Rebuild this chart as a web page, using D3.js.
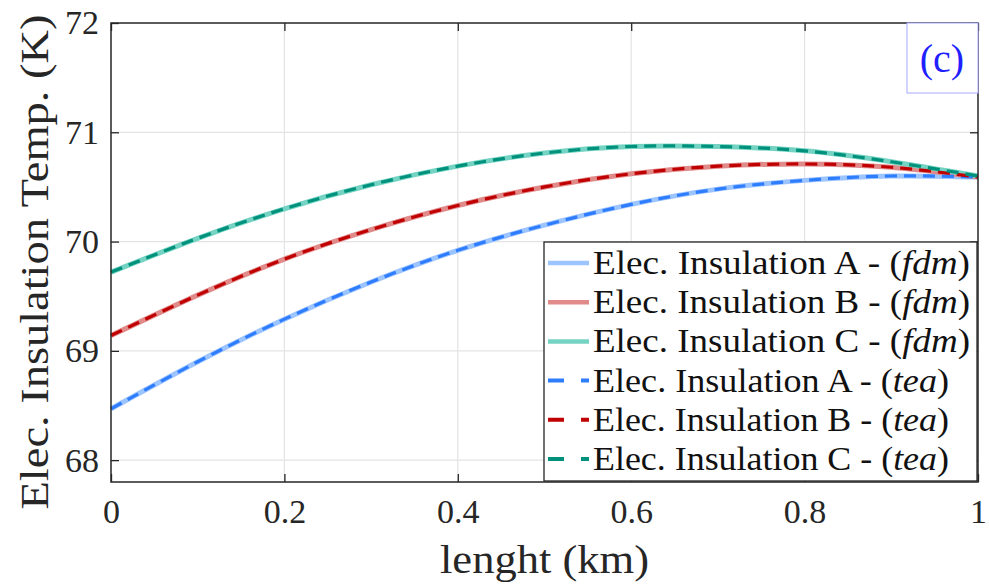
<!DOCTYPE html>
<html>
<head>
<meta charset="utf-8">
<script src="https://cdn.jsdelivr.net/npm/d3@7"></script>
<style>
  html, body { margin: 0; padding: 0; background: #fff; }
  svg { display: block; }
</style>
</head>
<body>
<svg id="chart" width="989" height="584"></svg>
<script>
// Position along the line (km)
const lengthKm = [0, 0.1, 0.2, 0.3, 0.4, 0.5, 0.6, 0.7, 0.8, 0.9, 1.0];

// Insulation temperatures (K), finite-difference solution
const fdmA = [68.47, 68.90, 69.29, 69.63, 69.92, 70.15, 70.34, 70.48, 70.56, 70.60, 70.59];
const fdmB = [69.14, 69.51, 69.84, 70.11, 70.33, 70.50, 70.62, 70.69, 70.71, 70.68, 70.59];
const fdmC = [69.72, 70.03, 70.30, 70.52, 70.69, 70.81, 70.87, 70.87, 70.83, 70.73, 70.60];

// Insulation temperatures (K), analytical (tea) solution
const teaA = [68.47, 68.90, 69.29, 69.63, 69.92, 70.15, 70.34, 70.48, 70.56, 70.60, 70.59];
const teaB = [69.14, 69.51, 69.84, 70.11, 70.33, 70.50, 70.62, 70.69, 70.71, 70.68, 70.59];
const teaC = [69.72, 70.03, 70.30, 70.52, 70.69, 70.81, 70.87, 70.87, 70.83, 70.73, 70.60];

const xTicks = [0, 0.2, 0.4, 0.6, 0.8, 1];
const xTickLabels = ["0", "0.2", "0.4", "0.6", "0.8", "1"];
const yTicks = [68, 69, 70, 71, 72];
const yTickLabels = ["68", "69", "70", "71", "72"];

const legendNames = ["Elec. Insulation A", "Elec. Insulation B", "Elec. Insulation C",
                     "Elec. Insulation A", "Elec. Insulation B", "Elec. Insulation C"];
const legendMethods = ["fdm", "fdm", "fdm", "tea", "tea", "tea"];

const series = [
  { values: fdmA, color: "#9cc4ff", width: 5, dash: null },
  { values: fdmB, color: "#e08a8a", width: 5, dash: null },
  { values: fdmC, color: "#74d3c2", width: 5, dash: null },
  { values: teaA, color: "#2f7dff", width: 3.2, dash: "12,7" },
  { values: teaB, color: "#c00000", width: 3.2, dash: "12,7" },
  { values: teaC, color: "#00917c", width: 3.2, dash: "12,7" }
];

const serif = "'Liberation Serif', 'DejaVu Serif', 'Noto Serif', 'Times New Roman', Times, Tinos, 'Nimbus Roman', FreeSerif, Georgia, serif";
const svg = d3.select("#chart");
const plotLeft = 111, plotRight = 978, plotTop = 23, plotBottom = 482;

const x = d3.scaleLinear().domain([0, 1]).range([plotLeft, plotRight]);
const y = d3.scaleLinear().domain([67.8, 72]).range([plotBottom, plotTop]);

// Grid
const grid = svg.append("g");
grid.selectAll("line.gx").data(xTicks.slice(1, -1)).enter().append("line")
  .attr("x1", d => x(d)).attr("x2", d => x(d)).attr("y1", plotTop).attr("y2", plotBottom)
  .attr("stroke", "#e3e3e3").attr("stroke-width", 1.2);
grid.selectAll("line.gy").data(yTicks.filter(v => v < 72)).enter().append("line")
  .attr("x1", plotLeft).attr("x2", plotRight).attr("y1", d => y(d)).attr("y2", d => y(d))
  .attr("stroke", "#e3e3e3").attr("stroke-width", 1.2);

// Curves
const line = d3.line()
  .x((d, i) => x(lengthKm[i]))
  .y(d => y(d))
  .curve(d3.curveNatural);

const plot = svg.append("g");
series.forEach(s => {
  plot.append("path")
    .attr("d", line(s.values))
    .attr("fill", "none")
    .attr("stroke", s.color)
    .attr("stroke-width", s.width)
    .attr("stroke-dasharray", s.dash);
});

// Axes (ticks pointing inward on all four sides)
const tickLen = 8;
const axisColor = "#262626";
const axB = d3.axisBottom(x).tickValues(xTicks).tickFormat((d, i) => xTickLabels[i])
  .tickSizeInner(-tickLen).tickSizeOuter(0).tickPadding(17);
const axT = d3.axisTop(x).tickValues(xTicks).tickFormat("").tickSizeInner(-tickLen).tickSizeOuter(0);
const axL = d3.axisLeft(y).tickValues(yTicks).tickFormat((d, i) => yTickLabels[i])
  .tickSizeInner(-tickLen).tickSizeOuter(0).tickPadding(12);
const axR = d3.axisRight(y).tickValues(yTicks).tickFormat("").tickSizeInner(-tickLen).tickSizeOuter(0);

function styleAxis(g) {
  g.attr("font-family", serif).attr("font-size", 34);
  g.select(".domain").remove();
  g.selectAll(".tick line").attr("stroke", axisColor).attr("stroke-width", 1.3);
  g.selectAll(".tick text").attr("fill", axisColor);
}
svg.append("g").attr("transform", `translate(0,${plotBottom})`).call(axB).call(styleAxis);
svg.append("g").attr("transform", `translate(0,${plotTop})`).call(axT).call(styleAxis);
svg.append("g").attr("transform", `translate(${plotLeft},0)`).call(axL).call(styleAxis);
svg.append("g").attr("transform", `translate(${plotRight},0)`).call(axR).call(styleAxis);

// Plot frame
svg.append("rect")
  .attr("x", plotLeft).attr("y", plotTop).attr("width", plotRight - plotLeft).attr("height", plotBottom - plotTop)
  .attr("fill", "none").attr("stroke", axisColor).attr("stroke-width", 1.5);

// Axis titles
svg.append("text")
  .attr("x", (plotLeft + plotRight) / 2).attr("y", 573)
  .attr("text-anchor", "middle")
  .attr("font-family", serif).attr("font-size", 40).attr("fill", axisColor)
  .attr("textLength", 209).attr("lengthAdjust", "spacingAndGlyphs")
  .text("lenght (km)");

svg.append("text")
  .attr("transform", "translate(48,262) rotate(-90)")
  .attr("text-anchor", "middle")
  .attr("font-family", serif).attr("font-size", 40).attr("fill", axisColor)
  .attr("textLength", 495).attr("lengthAdjust", "spacingAndGlyphs")
  .text("Elec. Insulation Temp. (K)");

// Legend
const lg = svg.append("g");
const lgX = 544, lgY = 242, lgW = 433, lgH = 239;
lg.append("rect")
  .attr("x", lgX).attr("y", lgY).attr("width", lgW).attr("height", lgH)
  .attr("fill", "#fff").attr("stroke", axisColor).attr("stroke-width", 1.3);

const rowY = d3.scaleLinear().domain([0, 5]).range([263, 459]);
series.forEach((s, i) => {
  const ry = rowY(i);
  lg.append("line")
    .attr("x1", 548).attr("x2", 589).attr("y1", ry).attr("y2", ry)
    .attr("stroke", s.color)
    .attr("stroke-width", s.dash ? 4 : 4.5)
    .attr("stroke-dasharray", s.dash ? "16,17" : null);
  const t = lg.append("text")
    .attr("x", 593).attr("y", ry + 11)
    .attr("font-family", serif).attr("font-size", 33).attr("fill", "#111")
    .attr("textLength", legendMethods[i] === "fdm" ? 377 : 356)
    .attr("lengthAdjust", "spacingAndGlyphs");
  t.append("tspan").text(legendNames[i] + " - (");
  t.append("tspan").attr("font-style", "italic").text(legendMethods[i]);
  t.append("tspan").text(")");
});

// Panel tag
svg.append("rect")
  .attr("x", 907).attr("y", plotTop).attr("width", plotRight - 907).attr("height", 70)
  .attr("fill", "#fff").attr("stroke", "#a8a8ff").attr("stroke-width", 1);
svg.append("text")
  .attr("x", 942).attr("y", 72)
  .attr("text-anchor", "middle")
  .attr("font-family", serif).attr("font-size", 40)
  .attr("fill", "#1f1fff")
  .text("(c)");
</script>
</body>
</html>
